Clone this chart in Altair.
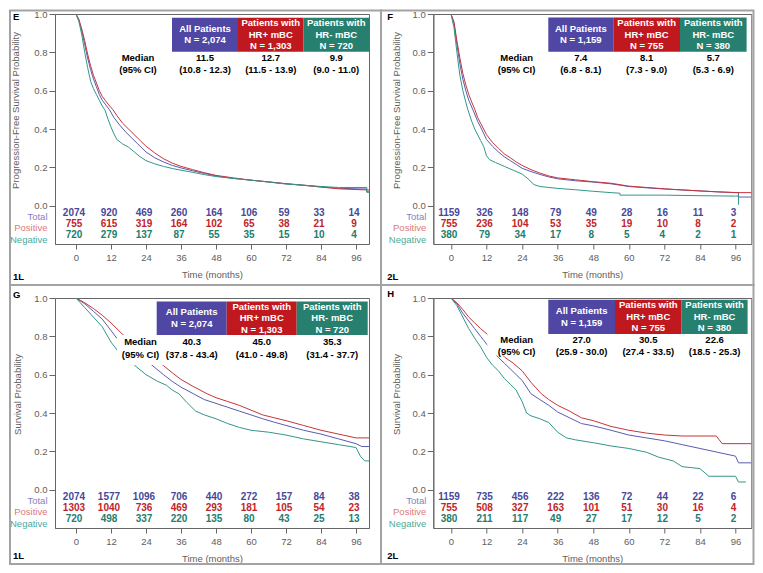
import altair as alt
import pandas as pd

FONT = "Liberation Sans"
TICKS = [0, 12, 24, 36, 48, 60, 72, 84, 96]
YTICKS = [0.0, 0.2, 0.4, 0.6, 0.8, 1.0]
GROUPS = ["Total", "Positive", "Negative"]
LINE = ["#5b5bb0", "#c4363b", "#34958a"]
BOX = ["#4f47a3", "#c0181f", "#27806f"]
NUM = ["#48489a", "#c0242a", "#237d6f"]
LAB = ["#8282c8", "#dc7a7a", "#4caa9b"]
FRAME = "#a3a3a3"

# ---------------- Panel E (PFS, 1L) ----------------
E_total_t = [0, 1, 2, 3, 4, 5, 6, 7, 8, 9, 10, 11.5, 13, 15, 17, 19, 21, 24, 27, 30, 33, 36, 40, 44, 48, 54, 60, 66, 72, 78, 84, 90, 96, 99.7, 99.7, 100.5]
E_total_s = [1, 0.97, 0.91, 0.84, 0.77, 0.71, 0.66, 0.62, 0.58, 0.55, 0.53, 0.50, 0.46, 0.42, 0.385, 0.355, 0.325, 0.28, 0.25, 0.228, 0.21, 0.197, 0.182, 0.168, 0.155, 0.142, 0.133, 0.124, 0.115, 0.107, 0.098, 0.091, 0.088, 0.087, 0.072, 0.072]
E_pos_t = [0, 1, 2, 3, 4, 5, 6, 7, 8, 9, 10, 11, 12.7, 14, 16, 18, 20, 22, 24, 27, 30, 33, 36, 40, 44, 48, 54, 60, 66, 72, 78, 84, 90, 96, 100.5]
E_pos_s = [1, 0.97, 0.92, 0.86, 0.79, 0.73, 0.68, 0.64, 0.6, 0.57, 0.55, 0.53, 0.5, 0.47, 0.43, 0.4, 0.37, 0.34, 0.31, 0.275, 0.245, 0.222, 0.205, 0.188, 0.172, 0.158, 0.145, 0.133, 0.124, 0.114, 0.106, 0.097, 0.088, 0.084, 0.082]
E_neg_t = [0, 1, 2, 3, 4, 5, 6, 7, 8, 9, 9.9, 11, 12, 13, 14, 16, 18, 20, 22, 24, 27, 30, 33, 36, 40, 44, 48, 54, 60, 66, 72, 78, 84, 90, 96, 99.7, 99.7, 100.5]
E_neg_s = [1, 0.96, 0.89, 0.8, 0.72, 0.65, 0.61, 0.58, 0.55, 0.52, 0.5, 0.45, 0.41, 0.375, 0.345, 0.322, 0.305, 0.28, 0.255, 0.235, 0.218, 0.205, 0.194, 0.185, 0.174, 0.162, 0.152, 0.142, 0.133, 0.123, 0.113, 0.107, 0.1, 0.095, 0.095, 0.095, 0.07, 0.07]
E_risk_total = [2074, 920, 469, 260, 164, 106, 59, 33, 14]
E_risk_pos = [755, 615, 319, 164, 102, 65, 38, 21, 9]
E_risk_neg = [720, 279, 137, 87, 55, 35, 15, 10, 4]
E_n = ["N = 2,074", "N = 1,303", "N = 720"]
E_med = [("11.5", "(10.8 - 12.3)"), ("12.7", "(11.5 - 13.9)"), ("9.9", "(9.0 - 11.0)")]

# ---------------- Panel F (PFS, 2L) ----------------
F_total_t = [0, 1, 2, 3, 4, 5, 6, 7.4, 9, 10, 12, 14, 16, 18, 20, 22, 24, 27, 30, 33, 36, 42, 48, 54, 60, 66, 72, 78, 84, 90, 97, 97, 101.5]
F_total_s = [1, 0.95, 0.84, 0.74, 0.66, 0.6, 0.55, 0.5, 0.44, 0.41, 0.345, 0.31, 0.28, 0.255, 0.235, 0.215, 0.195, 0.178, 0.163, 0.15, 0.14, 0.13, 0.123, 0.114, 0.1, 0.093, 0.087, 0.082, 0.077, 0.072, 0.068, 0.045, 0.045]
F_pos_t = [0, 1, 2, 3, 4, 5, 6, 7, 8.1, 9, 10, 12, 14, 16, 18, 20, 22, 24, 27, 30, 33, 36, 42, 48, 54, 60, 66, 72, 78, 84, 90, 96, 101.5]
F_pos_s = [1, 0.96, 0.86, 0.77, 0.69, 0.63, 0.58, 0.54, 0.5, 0.46, 0.43, 0.37, 0.33, 0.3, 0.27, 0.25, 0.228, 0.21, 0.188, 0.17, 0.155, 0.145, 0.135, 0.125, 0.117, 0.102, 0.095, 0.088, 0.082, 0.077, 0.072, 0.068, 0.068]
F_neg_t = [0, 1, 2, 3, 4, 5, 5.7, 7, 8, 10, 11, 12, 13, 15, 18, 21, 24, 26, 28, 30, 33, 36, 42, 48, 54, 57, 57, 66, 72, 84, 96, 97, 97]
F_neg_s = [1, 0.93, 0.8, 0.68, 0.6, 0.54, 0.5, 0.44, 0.4, 0.34, 0.31, 0.26, 0.24, 0.225, 0.205, 0.185, 0.165, 0.14, 0.11, 0.1, 0.095, 0.09, 0.083, 0.075, 0.068, 0.065, 0.055, 0.055, 0.055, 0.052, 0.05, 0.05, 0.005]
F_risk_total = [1159, 326, 148, 79, 49, 28, 16, 11, 3]
F_risk_pos = [755, 236, 104, 53, 35, 19, 10, 8, 2]
F_risk_neg = [380, 79, 34, 17, 8, 5, 4, 2, 1]
F_n = ["N = 1,159", "N = 755", "N = 380"]
F_med = [("7.4", "(6.8 - 8.1)"), ("8.1", "(7.3 - 9.0)"), ("5.7", "(5.3 - 6.9)")]

# ---------------- Panel G (OS, 1L) ----------------
G_total_t = [0, 3, 6, 9, 12, 14, 16, 18, 20, 22, 24, 26, 30, 33, 36, 40.3, 44, 48, 52, 56, 60, 64, 68, 72, 78, 84, 90, 96, 98, 100.5]
G_total_s = [1, 0.97, 0.93, 0.89, 0.83, 0.79, 0.77, 0.74, 0.72, 0.7, 0.675, 0.65, 0.6, 0.565, 0.535, 0.5, 0.47, 0.45, 0.43, 0.41, 0.39, 0.37, 0.352, 0.335, 0.31, 0.29, 0.265, 0.24, 0.225, 0.225]
G_pos_t = [0, 3, 6, 9, 12, 16, 20, 24, 27, 30, 33, 36, 40, 45, 48, 52, 56, 60, 64, 68, 72, 78, 84, 90, 96, 100.5]
G_pos_s = [1, 0.975, 0.945, 0.91, 0.87, 0.81, 0.76, 0.72, 0.68, 0.647, 0.61, 0.575, 0.54, 0.5, 0.48, 0.46, 0.44, 0.415, 0.39, 0.375, 0.36, 0.335, 0.31, 0.29, 0.27, 0.27]
G_neg_t = [0, 3, 6, 9, 12, 14.5, 17, 20, 24, 28, 31, 33, 35.3, 38, 41, 44, 48, 52, 56, 60, 66, 72, 78, 84, 90, 96, 97.5, 99, 100.5]
G_neg_s = [1, 0.95, 0.9, 0.85, 0.77, 0.72, 0.68, 0.65, 0.6, 0.565, 0.545, 0.52, 0.5, 0.455, 0.41, 0.39, 0.37, 0.345, 0.325, 0.31, 0.3, 0.285, 0.265, 0.25, 0.235, 0.22, 0.175, 0.15, 0.15]
G_risk_total = [2074, 1577, 1096, 706, 440, 272, 157, 84, 38]
G_risk_pos = [1303, 1040, 736, 469, 293, 181, 105, 54, 23]
G_risk_neg = [720, 498, 337, 220, 135, 80, 43, 25, 13]
G_n = ["N = 2,074", "N = 1,303", "N = 720"]
G_med = [("40.3", "(37.8 - 43.4)"), ("45.0", "(41.0 - 49.8)"), ("35.3", "(31.4 - 37.7)")]

# ---------------- Panel H (OS, 2L) ----------------
H_total_t = [0, 2, 4, 6, 8, 10, 11, 13, 16, 18, 20, 22, 24, 27, 30, 33, 36, 40, 44, 48, 54, 60, 66, 72, 78, 84, 90, 96, 97, 101.5]
H_total_s = [1, 0.97, 0.92, 0.88, 0.84, 0.8, 0.78, 0.74, 0.69, 0.66, 0.63, 0.6, 0.57, 0.5, 0.47, 0.44, 0.405, 0.375, 0.345, 0.333, 0.31, 0.285, 0.27, 0.255, 0.235, 0.215, 0.195, 0.175, 0.14, 0.14]
H_pos_t = [0, 2, 4, 6, 8, 10, 12.3, 15, 18.2, 21, 24, 27, 30.5, 33, 36, 40, 44, 48, 54, 60, 66, 72, 78, 84, 89.5, 90.5, 91.5, 101.5]
H_pos_s = [1, 0.975, 0.94, 0.9, 0.87, 0.84, 0.81, 0.74, 0.69, 0.66, 0.62, 0.56, 0.5, 0.47, 0.44, 0.41, 0.375, 0.36, 0.33, 0.31, 0.295, 0.285, 0.28, 0.28, 0.28, 0.26, 0.24, 0.24]
H_neg_t = [0, 2, 4, 6, 8, 10, 12, 14, 16, 18, 20, 22, 22.6, 24, 25.5, 27, 30, 33, 36, 39, 42, 48, 54, 60, 66, 70, 75, 78, 84, 87, 96, 97, 99.5]
H_neg_s = [1, 0.96, 0.9, 0.84, 0.79, 0.745, 0.69, 0.65, 0.62, 0.58, 0.55, 0.52, 0.5, 0.46, 0.4, 0.385, 0.37, 0.35, 0.3, 0.27, 0.26, 0.245, 0.228, 0.215, 0.195, 0.17, 0.15, 0.12, 0.11, 0.07, 0.07, 0.04, 0.04]
H_risk_total = [1159, 735, 456, 222, 136, 72, 44, 22, 6]
H_risk_pos = [755, 508, 327, 163, 101, 51, 30, 16, 4]
H_risk_neg = [380, 211, 117, 49, 27, 17, 12, 5, 2]
H_n = ["N = 1,159", "N = 755", "N = 380"]
H_med = [("27.0", "(25.9 - 30.0)"), ("30.5", "(27.4 - 33.5)"), ("22.6", "(18.5 - 25.3)")]

BOX_HEAD = [["All Patients"], ["Patients with", "HR+ mBC"], ["Patients with", "HR- mBC"]]
PFS_TITLE = "Progression-Free Survival Probability"
OS_TITLE = "Survival Probability"

ONE = pd.DataFrame({"k": [0]})
BOX_LH = 11.5
MED_LH = 12.3


def vmark(mark):
    return alt.Chart(ONE).mark_text(**mark)


def panel(curves, risks, ns, meds, ytitle, letter, tag, W, xdom, L):
    rows = []
    for g, (ts, ss) in zip(GROUPS, curves):
        for i, (t, s) in enumerate(zip(ts, ss)):
            rows.append({"g": g, "t": t, "s": s, "i": i})
    df = pd.DataFrame(rows)
    X = alt.X("t:Q", scale=alt.Scale(domain=xdom, nice=False, zero=False),
              axis=alt.Axis(values=TICKS, title="Time (months)", tickSize=5,
                            labelPadding=3.5, titlePadding=7.5, labelFlush=False))
    Y = alt.Y("s:Q", scale=alt.Scale(domain=[-0.2, 1.0], nice=False, zero=False),
              axis=alt.Axis(values=YTICKS, format=".1f", title=ytitle, tickSize=6,
                            labelPadding=2, titleX=L["tx"], titleY=96, titleAngle=270,
                            titleBaseline="middle"))
    layers = [alt.Chart(df).mark_line(strokeWidth=1, clip=True).encode(
        x=X, y=Y,
        color=alt.Color("g:N", scale=alt.Scale(domain=GROUPS, range=LINE), legend=None),
        order="i:Q")]
    if L["wr"]:
        x0, x1, y0, y1 = L["wr"]
        layers.append(alt.Chart(ONE).mark_rect(color="white").encode(
            x=alt.value(x0), x2=alt.value(x1), y=alt.value(y0), y2=alt.value(y1)))
    bx, by = L["bx"], L["by"]
    for j in range(3):
        layers.append(alt.Chart(ONE).mark_rect(color=BOX[j]).encode(
            x=alt.value(bx[j]), x2=alt.value(bx[j + 1]), y=alt.value(by[0]), y2=alt.value(by[1])))
        cx = (bx[j] + bx[j + 1]) / 2
        blines = BOX_HEAD[j] + [ns[j]]
        first_y = (by[0] + by[1]) / 2 - (len(blines) - 1) * BOX_LH / 2
        layers.append(vmark(dict(text="\n".join(blines), lineBreak="\n",
                                 lineHeight=BOX_LH, font=FONT, fontSize=9.5, fontWeight="bold",
                                 color="white", align="center", baseline="middle")).encode(
            x=alt.value(cx), y=alt.value(first_y)))
        layers.append(vmark(dict(text=meds[j][0] + "\n" + meds[j][1], lineBreak="\n",
                                 lineHeight=MED_LH, font=FONT, fontSize=9.5, fontWeight="bold",
                                 color="black", align="center", baseline="middle")).encode(
            x=alt.value(cx), y=alt.value(L["my"] - MED_LH / 2)))
    layers.append(vmark(dict(text="Median\n(95% CI)", lineBreak="\n", lineHeight=MED_LH,
                             font=FONT, fontSize=9.5, fontWeight="bold", color="black",
                             align="center", baseline="middle")).encode(
        x=alt.value(L["mx"]), y=alt.value(L["my"] - MED_LH / 2)))
    num_y = [198.5, 209.5, 221]
    lab_y = [202.5, 214, 225.5]
    for j in range(3):
        rdf = pd.DataFrame({"t": TICKS, "n": [str(v) for v in risks[j]]})
        layers.append(alt.Chart(rdf).mark_text(font=FONT, fontSize=10, fontWeight="bold",
                                               color=NUM[j], align="center", baseline="middle",
                                               dx=-2).encode(
            x=X, y=alt.value(num_y[j]), text="n:N"))
        layers.append(vmark(dict(text=GROUPS[j], font=FONT, fontSize=9.5, color=LAB[j],
                                 align="right", baseline="middle")).encode(
            x=alt.value(L["rl"]), y=alt.value(lab_y[j])))
    layers.append(vmark(dict(text=letter, font=FONT, fontSize=9.5, fontWeight="bold",
                             color="black", align="left", baseline="top")).encode(
        x=alt.value(L["lx"]), y=alt.value(L["ly"])))
    layers.append(vmark(dict(text=tag, font=FONT, fontSize=9.5, fontWeight="bold",
                             color="black", align="left", baseline="middle")).encode(
        x=alt.value(L["lx"]), y=alt.value(L["tagy"])))
    f = L["frame"]
    layers.append(alt.Chart(ONE).mark_rect(fillOpacity=0, stroke=FRAME, strokeWidth=2).encode(
        x=alt.value(f[0]), x2=alt.value(f[1]), y=alt.value(f[2]), y2=alt.value(f[3])))
    return alt.layer(*layers).properties(width=W, height=230)


LEFT_DOM = [-7.2, 100.46]
RIGHT_DOM = [-5.97, 101.33]

E = panel([(E_total_t, E_total_s), (E_pos_t, E_pos_s), (E_neg_t, E_neg_s)],
          [E_risk_total, E_risk_pos, E_risk_neg], E_n, E_med, PFS_TITLE, "E", "1L", 314, LEFT_DOM,
          dict(bx=[117, 183, 248.5, 314], by=[3.7, 37.7], mx=83, my=49.9, tx=-40, lx=-42,
               ly=-2.2, tagy=263, wr=None, rl=-7.5, frame=[-45, 326, -3.5, 271]))
F = panel([(F_total_t, F_total_s), (F_pos_t, F_pos_s), (F_neg_t, F_neg_s)],
          [F_risk_total, F_risk_pos, F_risk_neg], F_n, F_med, PFS_TITLE, "F", "2L", 318, RIGHT_DOM,
          dict(bx=[115, 180, 246.7, 313.3], by=[3.4, 37.7], mx=83.3, my=49.9, tx=-37, lx=-46,
               ly=-2.2, tagy=263, wr=None, rl=-7, frame=[-52.3, 320.2, -3.5, 271]))
G = panel([(G_total_t, G_total_s), (G_pos_t, G_pos_s), (G_neg_t, G_neg_s)],
          [G_risk_total, G_risk_pos, G_risk_neg], G_n, G_med, OS_TITLE, "G", "1L", 314, LEFT_DOM,
          dict(bx=[101.7, 171.7, 241.7, 312.7], by=[3.4, 37], mx=85.5, my=50.5, tx=-38, lx=-42,
               ly=-8, tagy=258, wr=[62, 313, 37, 67], rl=-7.5, frame=[-45, 326, -13, 266]))
H = panel([(H_total_t, H_total_s), (H_pos_t, H_pos_s), (H_neg_t, H_neg_s)],
          [H_risk_total, H_risk_pos, H_risk_neg], H_n, H_med, OS_TITLE, "H", "2L", 318, RIGHT_DOM,
          dict(bx=[115, 181.7, 248.3, 314.3], by=[1.7, 36], mx=83.3, my=47.9, tx=-37, lx=-46,
               ly=-9, tagy=258, wr=[54, 317, 36, 57.5], rl=-7, frame=[-52.3, 320.2, -13, 266]))

chart = alt.concat(E, F, G, H, columns=2, spacing={"row": 54, "column": 64.3},
                   bounds="flush", align="each").properties(
    padding=0, background="white"
).configure_view(stroke="#666666", strokeWidth=1).configure_axis(
    grid=False, labelFont=FONT, labelFontSize=9.5, labelColor="#5e5e5e",
    titleFont=FONT, titleFontSize=9.5, titleFontWeight="normal", titleColor="#5e5e5e",
    tickColor="#666666", domainColor="#666666"
).configure_text(font=FONT)

chart.save("out.html", embed_options={"renderer": "svg", "actions": False})
